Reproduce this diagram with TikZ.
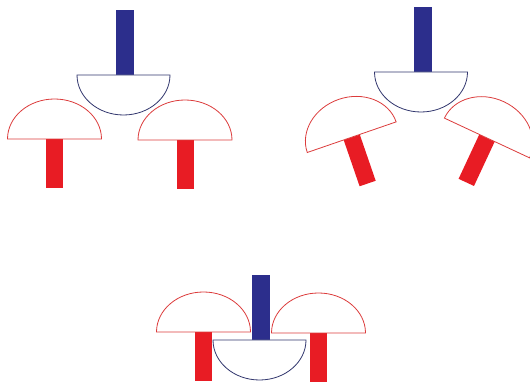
\documentclass[tikz,border=0pt]{standalone}
\definecolor{mred}{RGB}{232,28,36}
\definecolor{mblue}{RGB}{44,46,140}
\definecolor{capred}{RGB}{220,60,60}
\definecolor{capblue}{RGB}{50,55,110}
\tikzset{
  redcap/.style={draw=capred,fill=white,line width=0.8pt},
  bluecap/.style={draw=capblue,fill=white,line width=0.8pt},
  redstem/.style={fill=mred},
  bluestem/.style={fill=mblue},
}
\newcommand{\redmush}[3]{%
  \begin{scope}[shift={(#1,#2)},rotate=#3]
    \fill[redstem] (-8.5,0) rectangle (8.5,-49);
    \draw[redcap] (-47,0) arc[start angle=180,end angle=0,x radius=47,y radius=40] -- cycle;
  \end{scope}}
\newcommand{\bluemush}[3]{%
  \begin{scope}[shift={(#1,#2)}]
    \fill[bluestem] (#3-9,0) rectangle (#3+9,65);
    \draw[bluecap] (-46.5,0) arc[start angle=180,end angle=360,x radius=46.5,y radius=40] -- cycle;
  \end{scope}}
\begin{document}
\begin{tikzpicture}[x=1pt,y=1pt]
\useasboundingbox (0,0) rectangle (530,385);
% panel 1
\bluemush{123.5}{310}{1.5}
\redmush{54.5}{246}{0}
\redmush{185}{245}{0}
% panel 2
\bluemush{421}{313}{2}
\redmush{351.7}{247.8}{19}
\redmush{487}{247}{-25}
% panel 3
\bluemush{259.5}{45}{1.5}
\redmush{203.5}{53}{0}
\redmush{318.5}{52}{0}
\end{tikzpicture}
\end{document}
